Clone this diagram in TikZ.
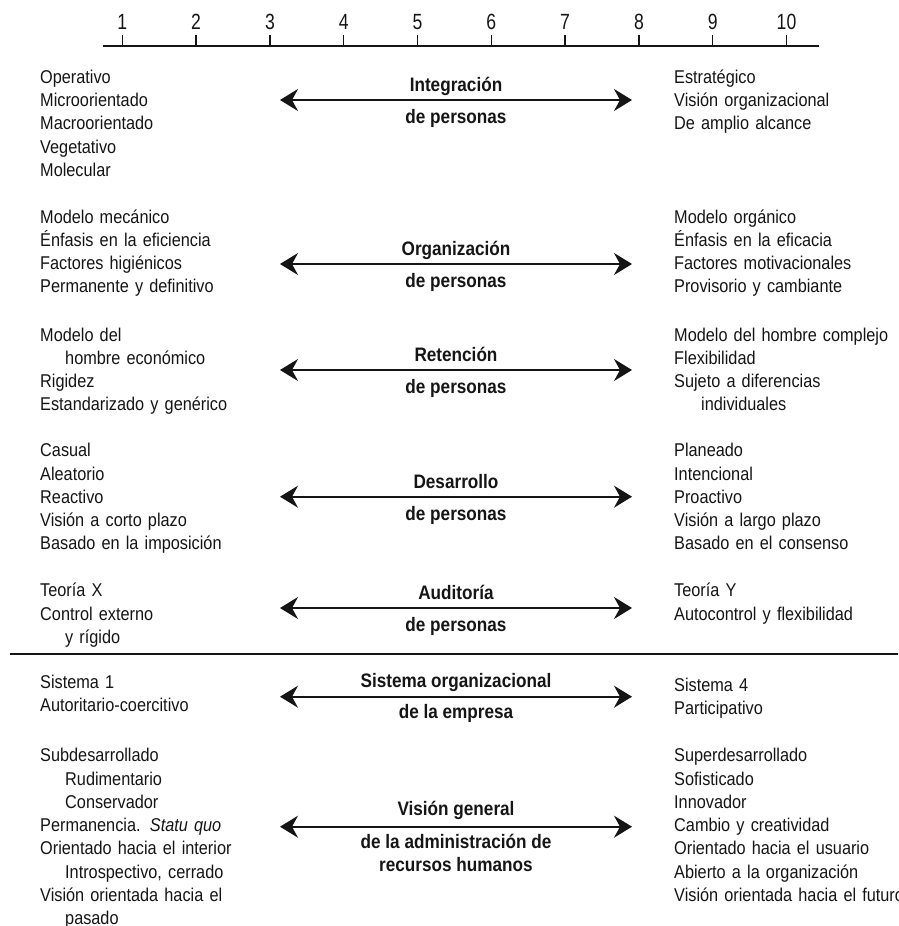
\documentclass[tikz,border=0pt]{standalone}
\usepackage{fontspec}
\setmainfont[FakeStretch=0.88]{Liberation Sans}
\newfontfamily\numfont[FakeStretch=0.8]{Liberation Sans}
\usetikzlibrary{arrows.meta}
\definecolor{ink}{HTML}{151515}

\begin{document}
\begin{tikzpicture}[x=1pt,y=-1pt,
  txt/.style={anchor=base west, inner sep=0pt, text width=330pt, align=left,
    font=\fontsize{18.5}{23.3}\selectfont, text=ink},
  ttl/.style={anchor=base, inner sep=0pt,
    font=\fontsize{19.5}{23.3}\selectfont\bfseries, text=ink},
  num/.style={anchor=base, inner sep=0pt, font=\numfont\fontsize{22}{24}\selectfont, text=ink},
  dbl/.style={{Stealth[length=18pt,width=22pt,inset=6pt]}-{Stealth[length=18pt,width=22pt,inset=6pt]},
    line width=1.6pt, draw=ink},
  rule/.style={line width=1.8pt, draw=ink},
  tick/.style={line width=1.5pt, draw=ink}]

\useasboundingbox (0,0) rectangle (898,926);

% --- scale 1..10 ---
\coordinate (ax0) at (102.7,45.7);
\coordinate (ax1) at (819.3,45.7);
\draw[rule] (ax0) -- (ax1);
\foreach \i in {1,...,10}{
  \pgfmathsetmacro{\xx}{122.3+73.8*(\i-1)}
  \coordinate (tk\i) at (\xx,45.7);
  \coordinate (tt\i) at (\xx,35);
  \draw[tick] (tk\i) -- (tt\i);
  \node[num] (n\i) at (\xx,29.3) {\i};
}

% --- Integración de personas ---
\node[txt] (l1) at (40,83.3) {Operativo\\Microorientado\\Macroorientado\\Vegetativo\\Molecular};
\node[txt] (r1) at (674,83.3) {Estratégico\\Visión organizacional\\De amplio alcance};
\coordinate (a1l) at (280,100);
\coordinate (a1r) at (632,100);
\draw[dbl] (a1l) -- (a1r);
\node[ttl] (t1a) at (456,91.5) {Integración};
\node[ttl] (t1b) at (456,123.3) {de personas};

% --- Organización de personas ---
\node[txt] (l2) at (40,223) {Modelo mecánico\\Énfasis en la eficiencia\\Factores higiénicos\\Permanente y definitivo};
\node[txt] (r2) at (674,223) {Modelo orgánico\\Énfasis en la eficacia\\Factores motivacionales\\Provisorio y cambiante};
\coordinate (a2l) at (280,264);
\coordinate (a2r) at (632,264);
\draw[dbl] (a2l) -- (a2r);
\node[ttl] (t2a) at (456,255.5) {Organización};
\node[ttl] (t2b) at (456,287.3) {de personas};

% --- Retención de personas ---
\node[txt] (l3) at (40,341) {Modelo del\\\hspace*{25pt}hombre económico\\Rigidez\\Estandarizado y genérico};
\node[txt] (r3) at (674,341) {Modelo del hombre complejo\\Flexibilidad\\Sujeto a diferencias\\\hspace*{27pt}individuales};
\coordinate (a3l) at (280,370);
\coordinate (a3r) at (632,370);
\draw[dbl] (a3l) -- (a3r);
\node[ttl] (t3a) at (456,361.5) {Retención};
\node[ttl] (t3b) at (456,393.3) {de personas};

% --- Desarrollo de personas ---
\node[txt] (l4) at (40,456.7) {Casual\\Aleatorio\\Reactivo\\Visión a corto plazo\\Basado en la imposición};
\node[txt] (r4) at (674,456.7) {Planeado\\Intencional\\Proactivo\\Visión a largo plazo\\Basado en el consenso};
\coordinate (a4l) at (280,496.7);
\coordinate (a4r) at (632,496.7);
\draw[dbl] (a4l) -- (a4r);
\node[ttl] (t4a) at (456,488.2) {Desarrollo};
\node[ttl] (t4b) at (456,520) {de personas};

% --- Auditoría de personas ---
\node[txt] (l5) at (40,596.7) {Teoría X\\Control externo\\\hspace*{25pt}y rígido};
\node[txt] (r5) at (674,596.7) {Teoría Y\\Autocontrol y flexibilidad};
\coordinate (a5l) at (280,608);
\coordinate (a5r) at (632,608);
\draw[dbl] (a5l) -- (a5r);
\node[ttl] (t5a) at (456,599.5) {Auditoría};
\node[ttl] (t5b) at (456,631.3) {de personas};

% --- separator ---
\coordinate (s0) at (10,654);
\coordinate (s1) at (898,654);
\draw[rule] (s0) -- (s1);

% --- Sistema organizacional de la empresa ---
\node[txt] (l6) at (40,688.5) {Sistema 1\\Autoritario-coercitivo};
\node[txt] (r6) at (674,691.5) {Sistema 4\\Participativo};
\coordinate (a6l) at (280,696.7);
\coordinate (a6r) at (632,696.7);
\draw[dbl] (a6l) -- (a6r);
\node[ttl] (t6a) at (456,687.5) {Sistema organizacional};
\node[ttl] (t6b) at (456,718.5) {de la empresa};

% --- Visión general de la administración de recursos humanos ---
\node[txt] (l7) at (40,761.7) {Subdesarrollado\\\hspace*{25pt}Rudimentario\\\hspace*{25pt}Conservador\\Permanencia. \emph{Statu quo}\\Orientado hacia el interior\\\hspace*{25pt}Introspectivo, cerrado\\Visión orientada hacia el\\\hspace*{25pt}pasado};
\node[txt] (r7) at (674,761.7) {Superdesarrollado\\Sofisticado\\Innovador\\Cambio y creatividad\\Orientado hacia el usuario\\Abierto a la organización\\Visión orientada hacia el futuro};
\coordinate (a7l) at (280,826.7);
\coordinate (a7r) at (632,826.7);
\draw[dbl] (a7l) -- (a7r);
\node[ttl] (t7a) at (456,815) {Visión general};
\node[ttl] (t7b) at (456,848.3) {de la administración de};
\node[ttl] (t7c) at (456,871.7) {recursos humanos};
\end{tikzpicture}
\end{document}
